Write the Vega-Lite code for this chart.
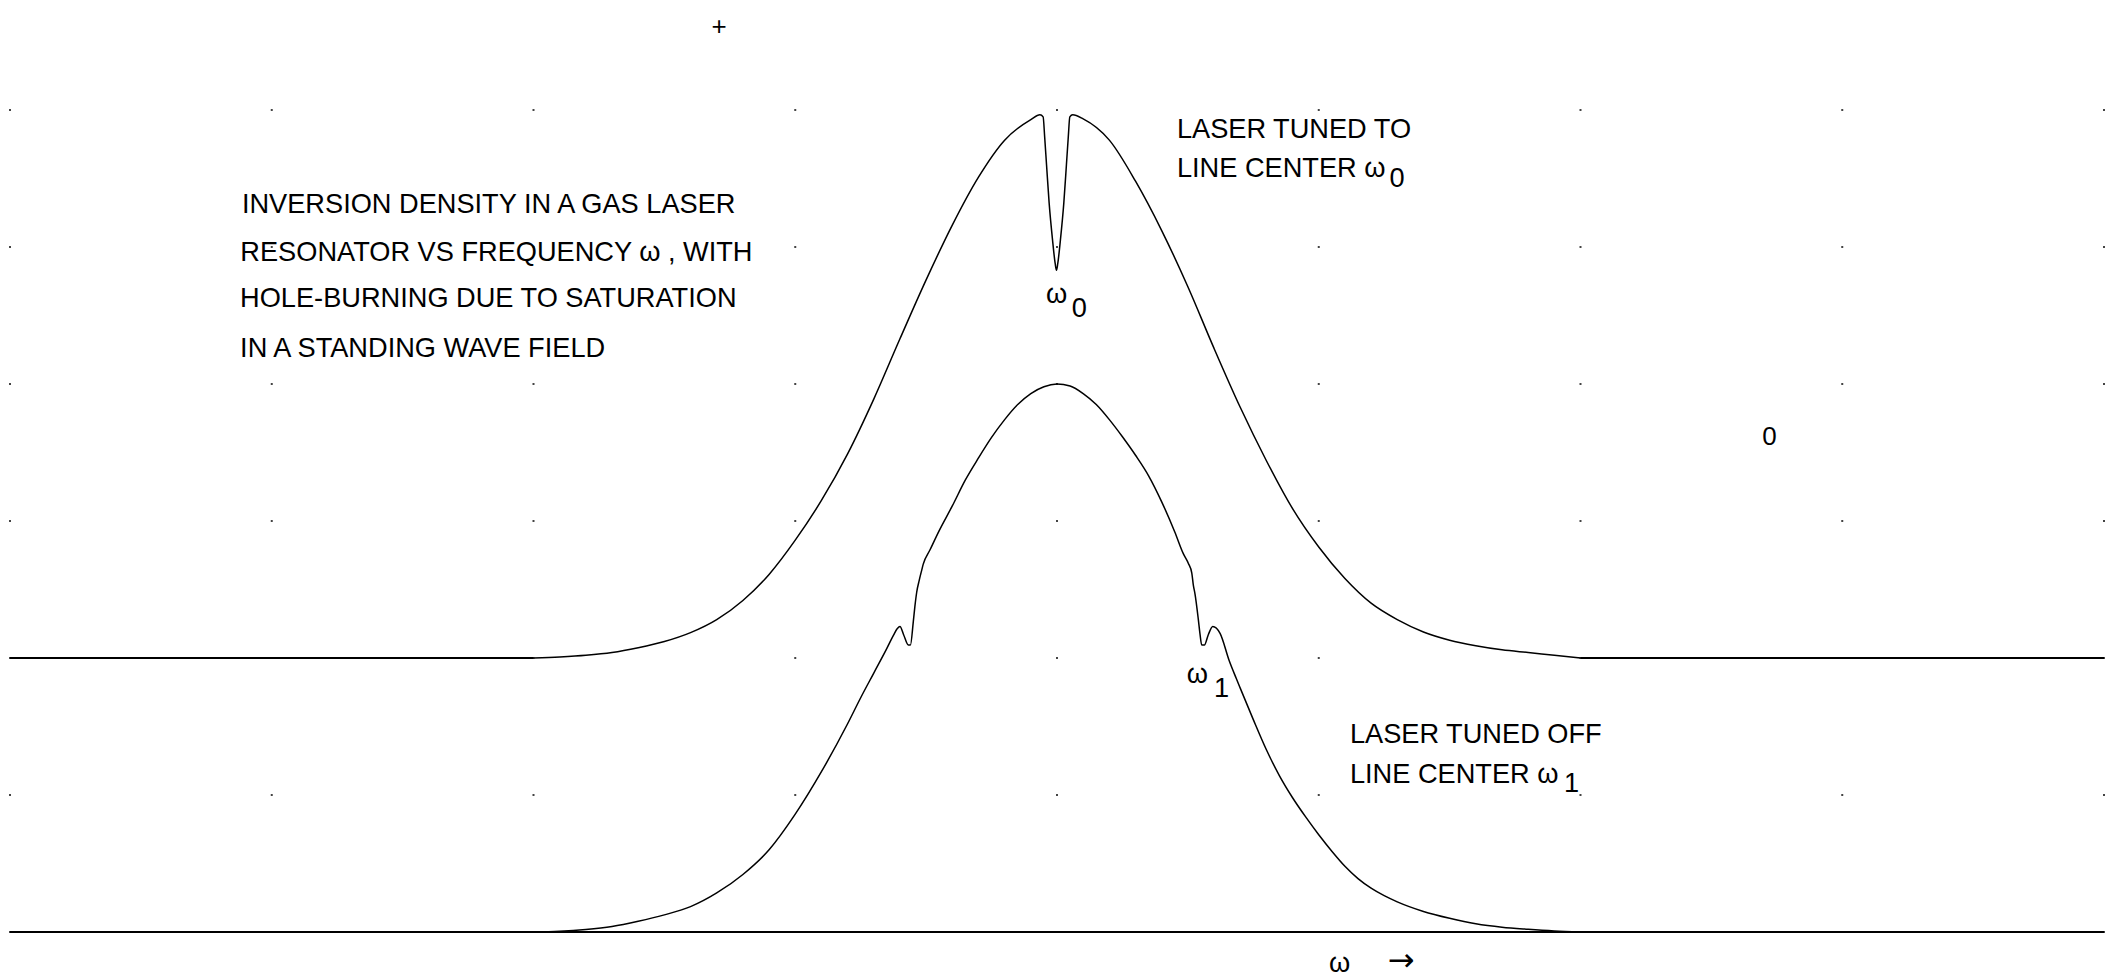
{
  "$schema": "https://vega.github.io/schema/vega-lite/v6.json",
  "width": 2094,
  "height": 822,
  "autosize": {"type": "none"},
  "padding": {"left": 10, "top": 110, "right": 8, "bottom": 47},
  "background": "#ffffff",
  "config": {"view": {"stroke": null}, "text": {"font": "Liberation Sans", "color": "#000000"}},
  "datasets": {
    "grid": [
      {"x":0,"y":0},{"x":0,"y":1},{"x":0,"y":2},{"x":0,"y":3},{"x":0,"y":4},{"x":0,"y":5},{"x":0,"y":6},
      {"x":1,"y":0},{"x":1,"y":1},{"x":1,"y":2},{"x":1,"y":3},{"x":1,"y":4},{"x":1,"y":5},{"x":1,"y":6},
      {"x":2,"y":0},{"x":2,"y":1},{"x":2,"y":2},{"x":2,"y":3},{"x":2,"y":4},{"x":2,"y":5},{"x":2,"y":6},
      {"x":3,"y":0},{"x":3,"y":1},{"x":3,"y":2},{"x":3,"y":3},{"x":3,"y":4},{"x":3,"y":5},{"x":3,"y":6},
      {"x":4,"y":0},{"x":4,"y":1},{"x":4,"y":2},{"x":4,"y":3},{"x":4,"y":4},{"x":4,"y":5},{"x":4,"y":6},
      {"x":5,"y":0},{"x":5,"y":1},{"x":5,"y":2},{"x":5,"y":3},{"x":5,"y":4},{"x":5,"y":5},{"x":5,"y":6},
      {"x":6,"y":0},{"x":6,"y":1},{"x":6,"y":2},{"x":6,"y":3},{"x":6,"y":4},{"x":6,"y":5},{"x":6,"y":6},
      {"x":7,"y":0},{"x":7,"y":1},{"x":7,"y":2},{"x":7,"y":3},{"x":7,"y":4},{"x":7,"y":5},{"x":7,"y":6},
      {"x":8,"y":0},{"x":8,"y":1},{"x":8,"y":2},{"x":8,"y":3},{"x":8,"y":4},{"x":8,"y":5},{"x":8,"y":6}
    ],
    "flats": [
      {"s":"base","x":0,"y":0},{"s":"base","x":8,"y":0},
      {"s":"flatL","x":0,"y":2},{"s":"flatL","x":2,"y":2},
      {"s":"flatR","x":6,"y":2},{"s":"flatR","x":8,"y":2}
    ],
    "curves": [
      {"s":"upper","x":2.0,"y":2.0},{"s":"upper","x":2.1,"y":2.008},{"s":"upper","x":2.2,"y":2.02},{"s":"upper","x":2.3,"y":2.04},
      {"s":"upper","x":2.4,"y":2.075},{"s":"upper","x":2.5,"y":2.12},{"s":"upper","x":2.6,"y":2.185},{"s":"upper","x":2.7,"y":2.28},
      {"s":"upper","x":2.8,"y":2.42},{"s":"upper","x":2.9,"y":2.61},{"s":"upper","x":3.0,"y":2.86},{"s":"upper","x":3.1,"y":3.15},
      {"s":"upper","x":3.2,"y":3.49},{"s":"upper","x":3.3,"y":3.89},{"s":"upper","x":3.4,"y":4.33},{"s":"upper","x":3.5,"y":4.76},
      {"s":"upper","x":3.6,"y":5.16},{"s":"upper","x":3.7,"y":5.51},{"s":"upper","x":3.8,"y":5.78},{"s":"upper","x":3.9,"y":5.93},
      {"s":"upper","x":3.935,"y":5.965},{"s":"upper","x":3.947,"y":5.95},
      {"s":"upper","x":3.953,"y":5.80},{"s":"upper","x":3.960,"y":5.60},{"s":"upper","x":3.970,"y":5.32},{"s":"upper","x":3.983,"y":5.05},
      {"s":"upper","x":3.993,"y":4.88},{"s":"upper","x":3.998,"y":4.83},{"s":"upper","x":4.003,"y":4.88},{"s":"upper","x":4.013,"y":5.05},
      {"s":"upper","x":4.026,"y":5.32},{"s":"upper","x":4.036,"y":5.60},{"s":"upper","x":4.043,"y":5.80},{"s":"upper","x":4.049,"y":5.95},
      {"s":"upper","x":4.060,"y":5.965},{"s":"upper","x":4.1,"y":5.935},{"s":"upper","x":4.2,"y":5.78},{"s":"upper","x":4.3,"y":5.48},
      {"s":"upper","x":4.4,"y":5.12},{"s":"upper","x":4.5,"y":4.71},{"s":"upper","x":4.6,"y":4.26},{"s":"upper","x":4.7,"y":3.83},
      {"s":"upper","x":4.8,"y":3.44},{"s":"upper","x":4.9,"y":3.09},{"s":"upper","x":5.0,"y":2.81},{"s":"upper","x":5.1,"y":2.58},
      {"s":"upper","x":5.2,"y":2.40},{"s":"upper","x":5.3,"y":2.28},{"s":"upper","x":5.4,"y":2.19},{"s":"upper","x":5.5,"y":2.13},
      {"s":"upper","x":5.6,"y":2.09},{"s":"upper","x":5.7,"y":2.06},{"s":"upper","x":5.8,"y":2.04},{"s":"upper","x":5.9,"y":2.02},
      {"s":"upper","x":6.0,"y":2.0},
      {"s":"lower","x":2.0,"y":0},{"s":"lower","x":2.1,"y":0.005},{"s":"lower","x":2.2,"y":0.018},{"s":"lower","x":2.3,"y":0.04},
      {"s":"lower","x":2.4,"y":0.078},{"s":"lower","x":2.5,"y":0.125},{"s":"lower","x":2.6,"y":0.185},{"s":"lower","x":2.7,"y":0.285},
      {"s":"lower","x":2.8,"y":0.42},{"s":"lower","x":2.9,"y":0.60},{"s":"lower","x":3.0,"y":0.86},{"s":"lower","x":3.1,"y":1.17},
      {"s":"lower","x":3.2,"y":1.52},{"s":"lower","x":3.25,"y":1.71},{"s":"lower","x":3.3,"y":1.89},{"s":"lower","x":3.35,"y":2.07},
      {"s":"lower","x":3.375,"y":2.165},{"s":"lower","x":3.39,"y":2.215},{"s":"lower","x":3.40,"y":2.23},{"s":"lower","x":3.414,"y":2.17},
      {"s":"lower","x":3.432,"y":2.095},{"s":"lower","x":3.440,"y":2.095},{"s":"lower","x":3.451,"y":2.265},{"s":"lower","x":3.457,"y":2.375},
      {"s":"lower","x":3.464,"y":2.48},{"s":"lower","x":3.474,"y":2.57},{"s":"lower","x":3.483,"y":2.64},{"s":"lower","x":3.489,"y":2.685},
      {"s":"lower","x":3.515,"y":2.79},{"s":"lower","x":3.55,"y":2.93},{"s":"lower","x":3.6,"y":3.11},{"s":"lower","x":3.65,"y":3.30},
      {"s":"lower","x":3.7,"y":3.46},{"s":"lower","x":3.75,"y":3.61},{"s":"lower","x":3.8,"y":3.74},{"s":"lower","x":3.85,"y":3.85},
      {"s":"lower","x":3.9,"y":3.93},{"s":"lower","x":3.95,"y":3.98},{"s":"lower","x":4.0,"y":4.0},{"s":"lower","x":4.05,"y":3.985},
      {"s":"lower","x":4.1,"y":3.93},{"s":"lower","x":4.15,"y":3.85},{"s":"lower","x":4.2,"y":3.74},{"s":"lower","x":4.25,"y":3.615},
      {"s":"lower","x":4.3,"y":3.48},{"s":"lower","x":4.35,"y":3.33},{"s":"lower","x":4.4,"y":3.14},{"s":"lower","x":4.45,"y":2.92},
      {"s":"lower","x":4.483,"y":2.76},{"s":"lower","x":4.502,"y":2.69},{"s":"lower","x":4.515,"y":2.62},{"s":"lower","x":4.521,"y":2.53},
      {"s":"lower","x":4.527,"y":2.47},{"s":"lower","x":4.540,"y":2.28},{"s":"lower","x":4.546,"y":2.18},{"s":"lower","x":4.553,"y":2.095},
      {"s":"lower","x":4.563,"y":2.095},{"s":"lower","x":4.578,"y":2.17},{"s":"lower","x":4.595,"y":2.23},{"s":"lower","x":4.623,"y":2.18},
      {"s":"lower","x":4.658,"y":1.98},{"s":"lower","x":4.685,"y":1.85},{"s":"lower","x":4.7,"y":1.78},{"s":"lower","x":4.75,"y":1.55},
      {"s":"lower","x":4.8,"y":1.33},{"s":"lower","x":4.85,"y":1.14},{"s":"lower","x":4.9,"y":0.98},{"s":"lower","x":4.95,"y":0.84},
      {"s":"lower","x":5.0,"y":0.71},{"s":"lower","x":5.05,"y":0.59},{"s":"lower","x":5.1,"y":0.48},{"s":"lower","x":5.15,"y":0.39},
      {"s":"lower","x":5.2,"y":0.32},{"s":"lower","x":5.25,"y":0.265},{"s":"lower","x":5.3,"y":0.22},{"s":"lower","x":5.4,"y":0.15},
      {"s":"lower","x":5.5,"y":0.10},{"s":"lower","x":5.6,"y":0.06},{"s":"lower","x":5.7,"y":0.035},{"s":"lower","x":5.8,"y":0.02},
      {"s":"lower","x":5.9,"y":0.008},{"s":"lower","x":6.0,"y":0}
    ],
    "labels": [
      {"t":"INVERSION DENSITY IN A GAS LASER","x":0.886,"y":5.247},
      {"t":"RESONATOR VS FREQUENCY ω , WITH","x":0.88,"y":4.900},
      {"t":"HOLE-BURNING DUE TO SATURATION","x":0.879,"y":4.564},
      {"t":"IN A STANDING WAVE FIELD","x":0.879,"y":4.199},
      {"t":"LASER TUNED TO","x":4.458,"y":5.796},
      {"t":"LINE CENTER  ω","x":4.458,"y":5.511},
      {"t":"0","x":5.270,"y":5.438},
      {"t":"ω","x":3.958,"y":4.591},
      {"t":"0","x":4.056,"y":4.489},
      {"t":"ω","x":4.496,"y":1.82},
      {"t":"1","x":4.60,"y":1.715},
      {"t":"LASER TUNED OFF","x":5.119,"y":1.382},
      {"t":"LINE CENTER ω","x":5.119,"y":1.09},
      {"t":"1","x":5.937,"y":1.022}
    ],
    "bottomlabels": [
      {"t":"ω","x":5.039,"y":-0.336}
    ],
    "marks": [
      {"t":"+","x":2.709,"y":6.544},
      {"t":"0","x":6.722,"y":3.555}
    ],
    "arrow": [
      {"t":"→","x":5.315,"y":-0.336}
    ]
  },
  "layer": [
    {
      "data": {"name": "grid"},
      "mark": {"type": "square", "size": 4, "color": "#444444", "opacity": 1},
      "encoding": {
        "x": {"field": "x", "type": "quantitative", "scale": {"domain": [0, 8], "nice": false, "zero": false}, "axis": null},
        "y": {"field": "y", "type": "quantitative", "scale": {"domain": [0, 6], "nice": false, "zero": false}, "axis": null}
      }
    },
    {
      "data": {"name": "flats"},
      "mark": {"type": "line", "color": "#000000", "strokeWidth": 2},
      "encoding": {
        "x": {"field": "x", "type": "quantitative", "scale": {"domain": [0, 8], "nice": false, "zero": false}, "axis": null},
        "y": {"field": "y", "type": "quantitative", "scale": {"domain": [0, 6], "nice": false, "zero": false}, "axis": null},
        "detail": {"field": "s", "type": "nominal"}
      }
    },
    {
      "data": {"name": "curves"},
      "mark": {"type": "line", "color": "#000000", "strokeWidth": 1.5, "interpolate": "monotone"},
      "encoding": {
        "x": {"field": "x", "type": "quantitative", "scale": {"domain": [0, 8], "nice": false, "zero": false}, "axis": null},
        "y": {"field": "y", "type": "quantitative", "scale": {"domain": [0, 6], "nice": false, "zero": false}, "axis": null},
        "detail": {"field": "s", "type": "nominal"}
      }
    },
    {
      "data": {"name": "labels"},
      "mark": {"type": "text", "align": "left", "baseline": "alphabetic", "fontSize": 27.2, "color": "#000000"},
      "encoding": {
        "x": {"field": "x", "type": "quantitative", "scale": {"domain": [0, 8], "nice": false, "zero": false}, "axis": null},
        "y": {"field": "y", "type": "quantitative", "scale": {"domain": [0, 6], "nice": false, "zero": false}, "axis": null},
        "text": {"field": "t"}
      }
    },
    {
      "data": {"name": "bottomlabels"},
      "mark": {"type": "text", "align": "left", "baseline": "bottom", "fontSize": 27.2, "color": "#000000"},
      "encoding": {
        "x": {"field": "x", "type": "quantitative", "scale": {"domain": [0, 8], "nice": false, "zero": false}, "axis": null},
        "y": {"field": "y", "type": "quantitative", "scale": {"domain": [0, 6], "nice": false, "zero": false}, "axis": null},
        "text": {"field": "t"}
      }
    },
    {
      "data": {"name": "marks"},
      "mark": {"type": "text", "align": "center", "baseline": "alphabetic", "fontSize": 26, "color": "#000000"},
      "encoding": {
        "x": {"field": "x", "type": "quantitative", "scale": {"domain": [0, 8], "nice": false, "zero": false}, "axis": null},
        "y": {"field": "y", "type": "quantitative", "scale": {"domain": [0, 6], "nice": false, "zero": false}, "axis": null},
        "text": {"field": "t"}
      }
    },
    {
      "data": {"name": "arrow"},
      "mark": {"type": "text", "align": "center", "baseline": "bottom", "fontSize": 32, "font": "DejaVu Sans", "color": "#000000"},
      "encoding": {
        "x": {"field": "x", "type": "quantitative", "scale": {"domain": [0, 8], "nice": false, "zero": false}, "axis": null},
        "y": {"field": "y", "type": "quantitative", "scale": {"domain": [0, 6], "nice": false, "zero": false}, "axis": null},
        "text": {"field": "t"}
      }
    }
  ]
}
